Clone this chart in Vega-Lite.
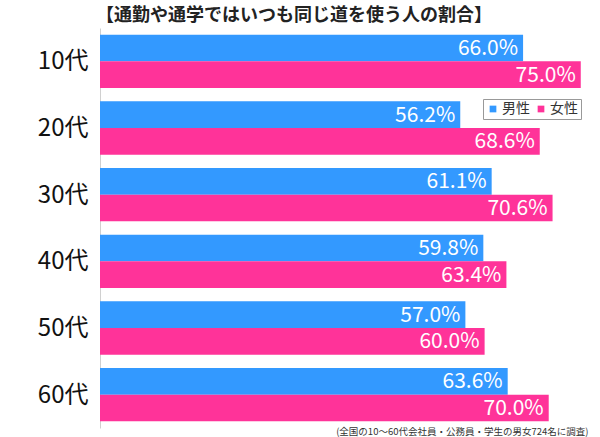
{
  "$schema": "https://vega.github.io/schema/vega-lite/v6.json",
  "width": 500,
  "height": 400,
  "autosize": "none",
  "padding": {"left": 100, "top": 28, "right": 0, "bottom": 9},
  "background": "white",
  "config": {
    "font": "Noto Sans CJK JP",
    "view": {"stroke": null}
  },
  "title": {
    "text": "【通勤や通学ではいつも同じ道を使う人の割合】",
    "fontSize": 18,
    "fontWeight": "bold",
    "color": "#222222",
    "anchor": "start",
    "frame": "group",
    "dx": -4,
    "offset": 3
  },
  "data": {
    "values": [
      {"age": "10代", "sex": "男性", "value": 0.660},
      {"age": "10代", "sex": "女性", "value": 0.750},
      {"age": "20代", "sex": "男性", "value": 0.562},
      {"age": "20代", "sex": "女性", "value": 0.686},
      {"age": "30代", "sex": "男性", "value": 0.611},
      {"age": "30代", "sex": "女性", "value": 0.706},
      {"age": "40代", "sex": "男性", "value": 0.598},
      {"age": "40代", "sex": "女性", "value": 0.634},
      {"age": "50代", "sex": "男性", "value": 0.570},
      {"age": "50代", "sex": "女性", "value": 0.600},
      {"age": "60代", "sex": "男性", "value": 0.636},
      {"age": "60代", "sex": "女性", "value": 0.700}
    ]
  },
  "encoding": {
    "y": {
      "field": "age",
      "type": "nominal",
      "sort": null,
      "scale": {"paddingInner": 0.2, "paddingOuter": 0.1},
      "axis": {
        "title": null,
        "ticks": false,
        "labelFontSize": 24,
        "labelColor": "#111111",
        "labelPadding": 12,
        "labelOffset": 1,
        "domainColor": "#d0d0d0",
        "domainWidth": 1
      }
    },
    "yOffset": {
      "field": "sex",
      "type": "nominal",
      "sort": ["男性", "女性"],
      "scale": {"paddingInner": 0, "paddingOuter": 0}
    },
    "x": {
      "field": "value",
      "type": "quantitative",
      "scale": {"domain": [0, 0.78], "nice": false},
      "axis": {
        "grid": false,
        "ticks": false,
        "labels": false,
        "domain": false,
        "title": "(全国の10～60代会社員・公務員・学生の男女724名に調査)",
        "titleFontSize": 9.5,
        "titleFontWeight": "normal",
        "titleColor": "#333333",
        "titleAnchor": "end",
        "titlePadding": -2,
        "titleX": 488
      }
    }
  },
  "layer": [
    {
      "mark": {"type": "bar", "cornerRadius": 0},
      "encoding": {
        "color": {
          "field": "sex",
          "type": "nominal",
          "sort": ["男性", "女性"],
          "scale": {"domain": ["男性", "女性"], "range": ["#3399ff", "#ff3399"]},
          "legend": {
            "title": null,
            "orient": "none",
            "legendX": 383,
            "legendY": 71,
            "direction": "horizontal",
            "symbolType": "square",
            "symbolSize": 45,
            "labelFontSize": 14,
            "labelColor": "#333333",
            "columnPadding": 4,
            "labelOffset": 2,
            "strokeColor": "#999999",
            "padding": 3
          }
        }
      }
    },
    {
      "mark": {"type": "text", "align": "right", "baseline": "middle", "dx": -5, "dy": 1, "fontSize": 21, "color": "white"},
      "encoding": {
        "text": {"field": "value", "type": "quantitative", "format": ".1%"}
      }
    }
  ]
}
